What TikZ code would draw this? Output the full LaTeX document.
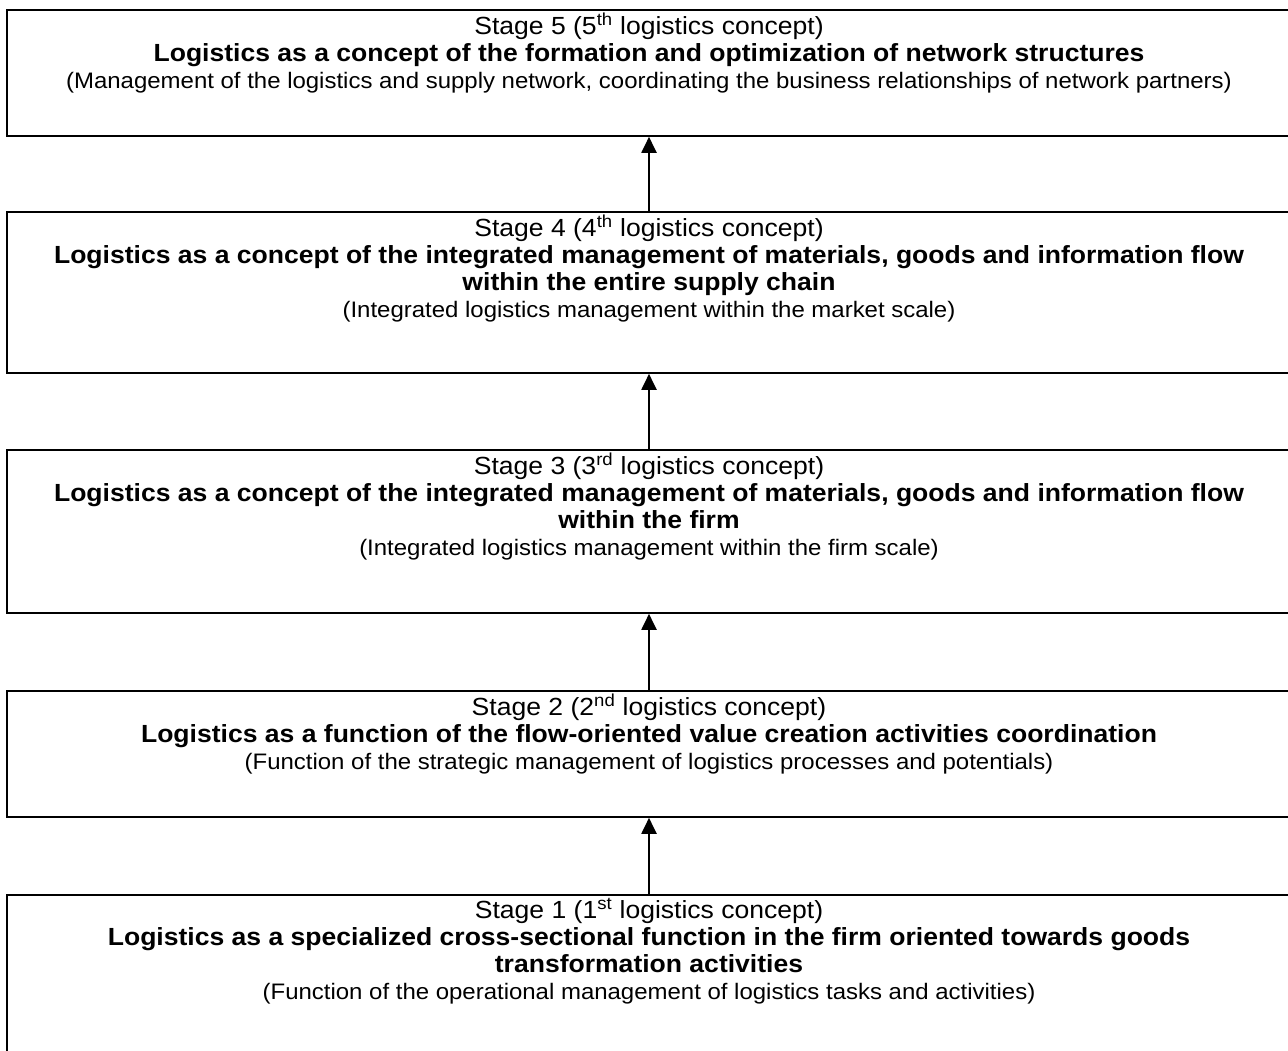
\documentclass[tikz,border=0pt]{standalone}
\usepackage{fontspec}
\setmainfont[FakeStretch=1.07]{Liberation Sans}
\usetikzlibrary{arrows.meta,positioning}
\newcommand{\stagenote}[1]{{\fontsize{22.4}{27}\selectfont #1}}
\tikzset{
  stagebox/.style={draw, line width=1.6pt, minimum width=1284pt, inner sep=0pt},
  stagetext/.style={anchor=north, align=center, inner sep=0pt, yshift=-3.5pt,
    font=\fontsize{24.8}{27}\selectfont},
  uparrow/.style={-{Triangle[length=16pt,width=15pt]}, line width=2pt},
}
\begin{document}
\begin{tikzpicture}[x=1pt,y=-1pt]
\clip (0,0) rectangle (1288,1050);
% the stage frames
\node[stagebox, minimum height=126pt] (s5) at (649,73) {};
\node[stagebox, minimum height=161pt] (s4) at (649,292.5) {};
\node[stagebox, minimum height=163pt] (s3) at (649,531.5) {};
\node[stagebox, minimum height=126pt] (s2) at (649,754) {};
\node[stagebox, minimum height=170pt] (s1) at (649,980) {};

% text of each stage
\node[stagetext] (t5) at (s5.north) {Stage 5 (5\textsuperscript{th} logistics concept)\\
  \textbf{Logistics as a concept of the formation and optimization of network structures}\\
  \stagenote{(Management of the logistics and supply network, coordinating the business relationships of network partners)}};
\node[stagetext] (t4) at (s4.north) {Stage 4 (4\textsuperscript{th} logistics concept)\\
  \textbf{Logistics as a concept of the integrated management of materials, goods and information flow}\\
  \textbf{within the entire supply chain}\\
  \stagenote{(Integrated logistics management within the market scale)}};
\node[stagetext] (t3) at (s3.north) {Stage 3 (3\textsuperscript{rd} logistics concept)\\
  \textbf{Logistics as a concept of the integrated management of materials, goods and information flow}\\
  \textbf{within the firm}\\
  \stagenote{(Integrated logistics management within the firm scale)}};
\node[stagetext] (t2) at (s2.north) {Stage 2 (2\textsuperscript{nd} logistics concept)\\
  \textbf{Logistics as a function of the flow-oriented value creation activities coordination}\\
  \stagenote{(Function of the strategic management of logistics processes and potentials)}};
\node[stagetext] (t1) at (s1.north) {Stage 1 (1\textsuperscript{st} logistics concept)\\
  \textbf{Logistics as a specialized cross-sectional function in the firm oriented towards goods}\\
  \textbf{transformation activities}\\
  \stagenote{(Function of the operational management of logistics tasks and activities)}};

% arrows between stages
\draw[uparrow] (s1.north) -- (s2.south);
\draw[uparrow] (s2.north) -- (s3.south);
\draw[uparrow] (s3.north) -- (s4.south);
\draw[uparrow] (s4.north) -- (s5.south);
\end{tikzpicture}
\end{document}
